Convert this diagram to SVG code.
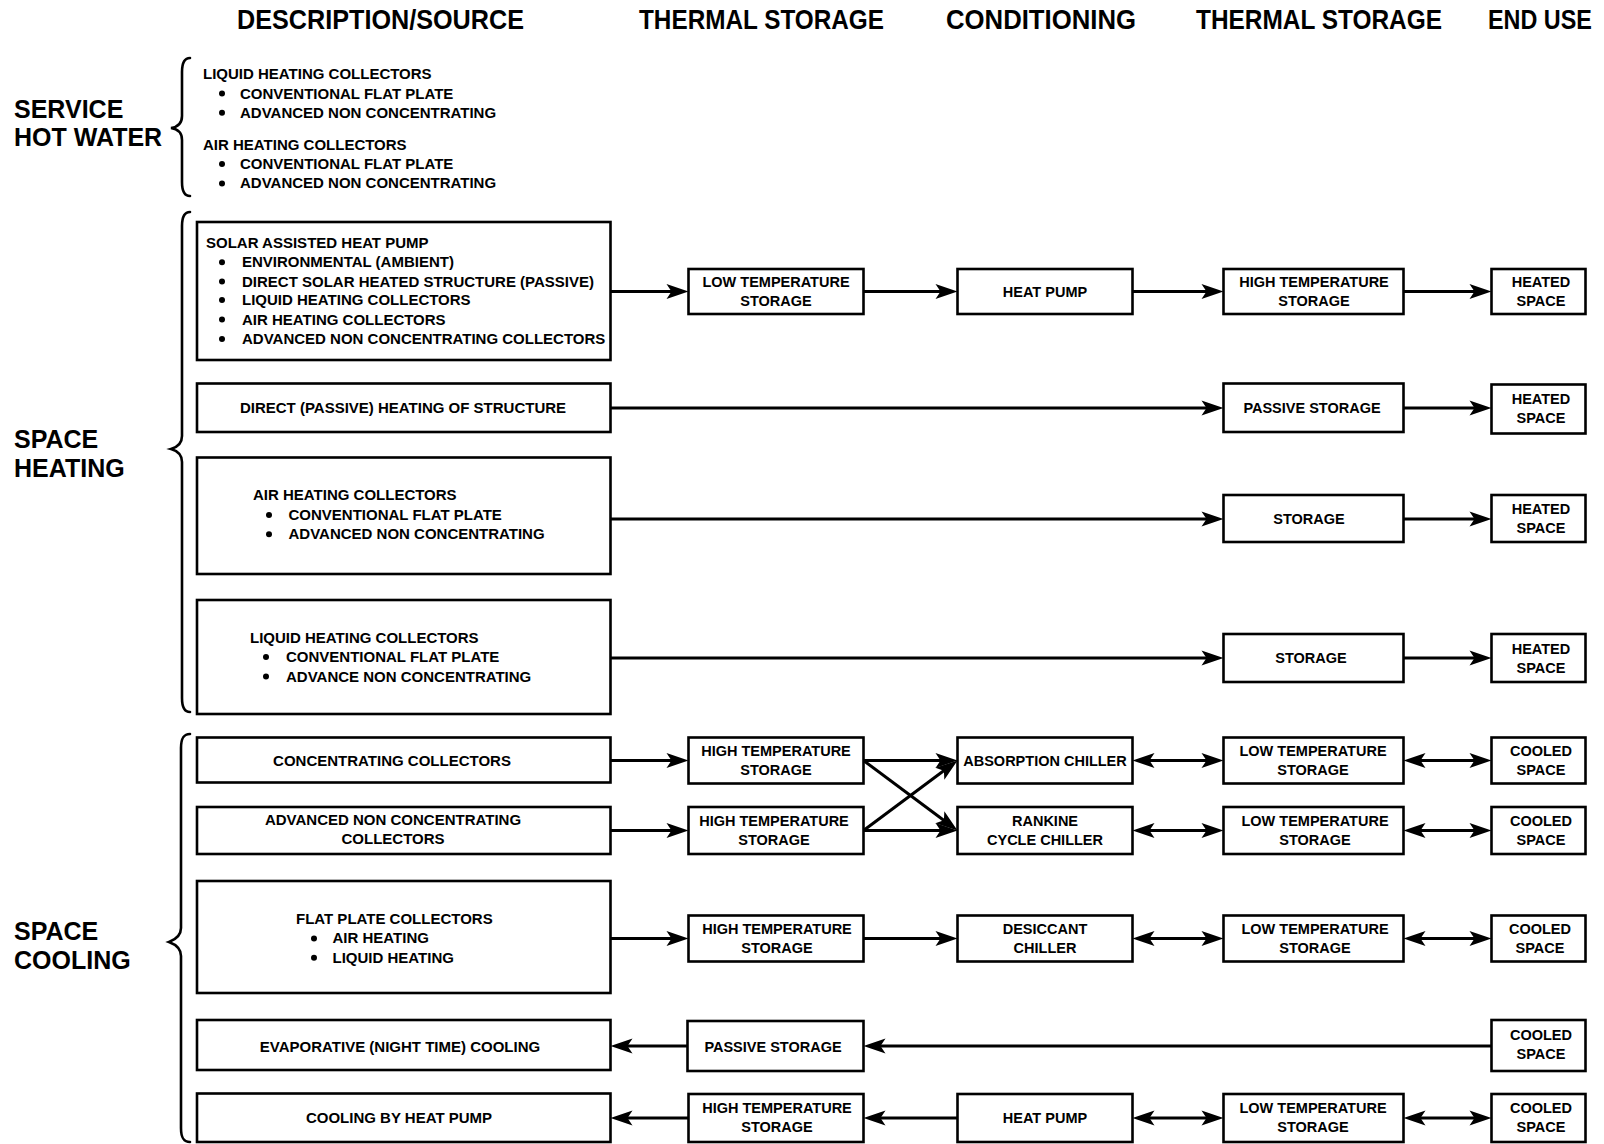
<svg xmlns="http://www.w3.org/2000/svg" width="1604" height="1144" viewBox="0 0 1604 1144">
<style>
text{font-family:"Liberation Sans",Arial,sans-serif;font-weight:bold;fill:#000}
.hd{font-size:28px}
.cat{font-size:25px}
.t{font-size:14.5px}
.s{font-size:15px}
.m{text-anchor:middle}
.box{fill:#fff;stroke:#000;stroke-width:2.6}
.br{fill:none;stroke:#000;stroke-width:2.6;stroke-linecap:round}
.ln{fill:none;stroke:#000;stroke-width:3}
.a{marker-end:url(#ah)}
.aa{marker-start:url(#ah);marker-end:url(#ah)}
</style>
<defs>
<marker id="ah" markerUnits="userSpaceOnUse" orient="auto-start-reverse" refX="0" refY="0" markerWidth="40" markerHeight="20" viewBox="-20 -10 40 20" overflow="visible">
<path d="M8,0 L-14,-7.5 L-9,0 L-14,7.5 Z" fill="#000"/>
</marker>
</defs>
<rect width="1604" height="1144" fill="#fff"/>

<g id="headers">
<text class="hd" x="237" y="29" textLength="287" lengthAdjust="spacingAndGlyphs">DESCRIPTION/SOURCE</text>
<text class="hd" x="639" y="29" textLength="245" lengthAdjust="spacingAndGlyphs">THERMAL STORAGE</text>
<text class="hd" x="946" y="29" textLength="190" lengthAdjust="spacingAndGlyphs">CONDITIONING</text>
<text class="hd" x="1196" y="29" textLength="246" lengthAdjust="spacingAndGlyphs">THERMAL STORAGE</text>
<text class="hd" x="0" y="0" transform="translate(1488,29) scale(0.835,1)">END USE</text>
</g>

<g id="categories">
<text class="cat" x="14" y="117.5">SERVICE</text>
<text class="cat" x="14" y="146">HOT WATER</text>
<text class="cat" x="14" y="448">SPACE</text>
<text class="cat" x="14" y="476.5">HEATING</text>
<text class="cat" x="14" y="940">SPACE</text>
<text class="cat" x="14" y="969">COOLING</text>
</g>

<g id="braces">
<path class="br" d="M190,58 C184,58 182,63 182,72 L182,116 C182,123 178,127 171,128 C178,129 182,133 182,140 L182,182 C182,191 184,196 190,196"/>
<path class="br" d="M190,212 C184,212 182,217 182,226 L182,436 C182,443 178,447 171,449 C178,451 182,455 182,462 L182,698 C182,707 184,712 190,712"/>
<path class="br" d="M190,734 C183,734 181,739 181,748 L181,928 C181,935 177,939 169,942 C177,945 181,949 181,956 L181,1128 C181,1137 183,1142 190,1142"/>
</g>

<g id="shw-text">
<text class="s" x="203" y="79">LIQUID HEATING COLLECTORS</text>
<circle cx="222" cy="93.5" r="3"/><text class="s" x="240" y="98.5">CONVENTIONAL FLAT PLATE</text>
<circle cx="222" cy="112.8" r="3"/><text class="s" x="240" y="117.8">ADVANCED NON CONCENTRATING</text>
<text class="s" x="203" y="149.5">AIR HEATING COLLECTORS</text>
<circle cx="222" cy="164" r="3"/><text class="s" x="240" y="169">CONVENTIONAL FLAT PLATE</text>
<circle cx="222" cy="183.4" r="3"/><text class="s" x="240" y="188.4">ADVANCED NON CONCENTRATING</text>
</g>

<g id="connectors">
<line class="ln a" x1="610.5" y1="291.5" x2="680.5" y2="291.5"/>
<line class="ln a" x1="863.5" y1="291.5" x2="949.5" y2="291.5"/>
<line class="ln a" x1="1132.5" y1="291.5" x2="1215.5" y2="291.5"/>
<line class="ln a" x1="1403.5" y1="291.5" x2="1483.5" y2="291.5"/>
<line class="ln a" x1="610.5" y1="408" x2="1215.5" y2="408"/>
<line class="ln a" x1="1403.5" y1="408" x2="1483.5" y2="408"/>
<line class="ln a" x1="610.5" y1="519" x2="1215.5" y2="519"/>
<line class="ln a" x1="1403.5" y1="519" x2="1483.5" y2="519"/>
<line class="ln a" x1="610.5" y1="658" x2="1215.5" y2="658"/>
<line class="ln a" x1="1403.5" y1="658" x2="1483.5" y2="658"/>

<line class="ln a" x1="610.5" y1="760.5" x2="680.5" y2="760.5"/>
<line class="ln a" x1="863.5" y1="760.5" x2="949.5" y2="760.5"/>
<line class="ln a" x1="863.5" y1="760.5" x2="951.1" y2="825.7"/>
<line class="ln aa" x1="1140.5" y1="760.5" x2="1215.5" y2="760.5"/>
<line class="ln aa" x1="1411.5" y1="760.5" x2="1483.5" y2="760.5"/>

<line class="ln a" x1="610.5" y1="830.5" x2="680.5" y2="830.5"/>
<line class="ln a" x1="863.5" y1="830.5" x2="949.5" y2="830.5"/>
<line class="ln a" x1="863.5" y1="830.5" x2="951.1" y2="765.3"/>
<line class="ln aa" x1="1140.5" y1="830.5" x2="1215.5" y2="830.5"/>
<line class="ln aa" x1="1411.5" y1="830.5" x2="1483.5" y2="830.5"/>

<line class="ln a" x1="610.5" y1="938.5" x2="680.5" y2="938.5"/>
<line class="ln a" x1="863.5" y1="938.5" x2="949.5" y2="938.5"/>
<line class="ln aa" x1="1140.5" y1="938.5" x2="1215.5" y2="938.5"/>
<line class="ln aa" x1="1411.5" y1="938.5" x2="1483.5" y2="938.5"/>

<line class="ln a" x1="1491.5" y1="1046" x2="871.5" y2="1046"/>
<line class="ln a" x1="687.5" y1="1046" x2="618.5" y2="1046"/>

<line class="ln a" x1="688.5" y1="1118" x2="618.5" y2="1118"/>
<line class="ln a" x1="957.5" y1="1118" x2="871.5" y2="1118"/>
<line class="ln aa" x1="1140.5" y1="1118" x2="1215.5" y2="1118"/>
<line class="ln aa" x1="1411.5" y1="1118" x2="1483.5" y2="1118"/>
</g>

<g id="h-src1"><rect class="box" x="197" y="222" width="413.5" height="138"/>
<text class="s" x="206" y="247.8">SOLAR ASSISTED HEAT PUMP</text>
<circle cx="222" cy="262.2" r="3"/><text class="s" x="242" y="267.2">ENVIRONMENTAL (AMBIENT)</text>
<circle cx="222" cy="281.6" r="3"/><text class="s" x="242" y="286.6">DIRECT SOLAR HEATED STRUCTURE (PASSIVE)</text>
<circle cx="222" cy="300" r="3"/><text class="s" x="242" y="305">LIQUID HEATING COLLECTORS</text>
<circle cx="222" cy="319.5" r="3"/><text class="s" x="242" y="324.5">AIR HEATING COLLECTORS</text>
<circle cx="222" cy="338.9" r="3"/><text class="s" x="242" y="343.9">ADVANCED NON CONCENTRATING COLLECTORS</text>
</g>
<g id="h-src2"><rect class="box" x="197" y="383.5" width="413.5" height="48.5"/>
<text class="s m" x="403" y="412.5">DIRECT (PASSIVE) HEATING OF STRUCTURE</text></g>
<g id="h-src3"><rect class="box" x="197" y="457.5" width="413.5" height="116.5"/>
<text class="s" x="253" y="500.4">AIR HEATING COLLECTORS</text>
<circle cx="269" cy="514.9" r="3"/><text class="s" x="288.5" y="519.9">CONVENTIONAL FLAT PLATE</text>
<circle cx="269" cy="534.3" r="3"/><text class="s" x="288.5" y="539.3">ADVANCED NON CONCENTRATING</text></g>
<g id="h-src4"><rect class="box" x="197" y="600" width="413.5" height="114"/>
<text class="s" x="250" y="642.6">LIQUID HEATING COLLECTORS</text>
<circle cx="266" cy="657.1" r="3"/><text class="s" x="286" y="662.1">CONVENTIONAL FLAT PLATE</text>
<circle cx="266" cy="676.5" r="3"/><text class="s" x="286" y="681.5">ADVANCE NON CONCENTRATING</text></g>

<g id="h1-lts"><rect class="box" x="688.5" y="269" width="175" height="45"/>
<text class="t m" x="776" y="287">LOW TEMPERATURE</text><text class="t m" x="776" y="306">STORAGE</text></g>
<g id="h1-hp"><rect class="box" x="957.5" y="269" width="175" height="45"/>
<text class="t m" x="1045" y="296.5">HEAT PUMP</text></g>
<g id="h1-hts"><rect class="box" x="1223.5" y="269" width="180" height="45"/>
<text class="t m" x="1314" y="287">HIGH TEMPERATURE</text><text class="t m" x="1314" y="306">STORAGE</text></g>
<g id="h1-end"><rect class="box" x="1491.5" y="269" width="94" height="45"/>
<text class="t m" x="1541" y="287">HEATED</text><text class="t m" x="1541" y="306">SPACE</text></g>

<g id="h2-ps"><rect class="box" x="1223.5" y="383.5" width="180" height="48.5"/>
<text class="t m" x="1312" y="413">PASSIVE STORAGE</text></g>
<g id="h2-end"><rect class="box" x="1491.5" y="384.5" width="94" height="49"/>
<text class="t m" x="1541" y="404">HEATED</text><text class="t m" x="1541" y="423">SPACE</text></g>

<g id="h3-st"><rect class="box" x="1223.5" y="495" width="180" height="47"/>
<text class="t m" x="1309" y="524">STORAGE</text></g>
<g id="h3-end"><rect class="box" x="1491.5" y="495" width="94" height="47"/>
<text class="t m" x="1541" y="514">HEATED</text><text class="t m" x="1541" y="533">SPACE</text></g>

<g id="h4-st"><rect class="box" x="1223.5" y="634" width="180" height="48"/>
<text class="t m" x="1311" y="663">STORAGE</text></g>
<g id="h4-end"><rect class="box" x="1491.5" y="634" width="94" height="48"/>
<text class="t m" x="1541" y="653.5">HEATED</text><text class="t m" x="1541" y="672.5">SPACE</text></g>

<g id="c-src1"><rect class="box" x="197" y="737.5" width="413.5" height="45"/>
<text class="s m" x="392" y="765.5">CONCENTRATING COLLECTORS</text></g>
<g id="c-src2"><rect class="box" x="197" y="807" width="413.5" height="47"/>
<text class="s m" x="393" y="824.5">ADVANCED NON CONCENTRATING</text><text class="s m" x="393" y="844">COLLECTORS</text></g>
<g id="c-src3"><rect class="box" x="197" y="881" width="413.5" height="112"/>
<text class="s" x="296" y="923.9">FLAT PLATE COLLECTORS</text>
<circle cx="314" cy="938.4" r="3"/><text class="s" x="332.5" y="943.4">AIR HEATING</text>
<circle cx="314" cy="957.8" r="3"/><text class="s" x="332.5" y="962.8">LIQUID HEATING</text></g>
<g id="c-src4"><rect class="box" x="197" y="1020" width="413.5" height="50"/>
<text class="s m" x="400" y="1051.5">EVAPORATIVE (NIGHT TIME) COOLING</text></g>
<g id="c-src5"><rect class="box" x="197" y="1093.5" width="413.5" height="48.5"/>
<text class="s m" x="399" y="1123">COOLING BY HEAT PUMP</text></g>

<g id="c1-hts"><rect class="box" x="688.5" y="737.5" width="175" height="46"/>
<text class="t m" x="776" y="756">HIGH TEMPERATURE</text><text class="t m" x="776" y="775">STORAGE</text></g>
<g id="c1-abs"><rect class="box" x="957.5" y="737.5" width="175" height="46"/>
<text class="t m" x="1045" y="765.5">ABSORPTION CHILLER</text></g>
<g id="c1-lts"><rect class="box" x="1223.5" y="737.5" width="180" height="46"/>
<text class="t m" x="1313" y="756">LOW TEMPERATURE</text><text class="t m" x="1313" y="775">STORAGE</text></g>
<g id="c1-end"><rect class="box" x="1491.5" y="737.5" width="94" height="46"/>
<text class="t m" x="1541" y="756">COOLED</text><text class="t m" x="1541" y="775">SPACE</text></g>

<g id="c2-hts"><rect class="box" x="688.5" y="807" width="175" height="47"/>
<text class="t m" x="774" y="826">HIGH TEMPERATURE</text><text class="t m" x="774" y="845">STORAGE</text></g>
<g id="c2-rank"><rect class="box" x="957.5" y="807" width="175" height="47"/>
<text class="t m" x="1045" y="826">RANKINE</text><text class="t m" x="1045" y="845">CYCLE CHILLER</text></g>
<g id="c2-lts"><rect class="box" x="1223.5" y="807" width="180" height="47"/>
<text class="t m" x="1315" y="826">LOW TEMPERATURE</text><text class="t m" x="1315" y="845">STORAGE</text></g>
<g id="c2-end"><rect class="box" x="1491.5" y="807" width="94" height="47"/>
<text class="t m" x="1541" y="826">COOLED</text><text class="t m" x="1541" y="845">SPACE</text></g>

<g id="c3-hts"><rect class="box" x="688.5" y="915.5" width="175" height="46"/>
<text class="t m" x="777" y="934">HIGH TEMPERATURE</text><text class="t m" x="777" y="953">STORAGE</text></g>
<g id="c3-des"><rect class="box" x="957.5" y="915.5" width="175" height="46"/>
<text class="t m" x="1045" y="934">DESICCANT</text><text class="t m" x="1045" y="953">CHILLER</text></g>
<g id="c3-lts"><rect class="box" x="1223.5" y="915.5" width="180" height="46"/>
<text class="t m" x="1315" y="934">LOW TEMPERATURE</text><text class="t m" x="1315" y="953">STORAGE</text></g>
<g id="c3-end"><rect class="box" x="1491.5" y="915.5" width="94" height="46"/>
<text class="t m" x="1540" y="934">COOLED</text><text class="t m" x="1540" y="953">SPACE</text></g>

<g id="c4-ps"><rect class="box" x="687.5" y="1021" width="176" height="50"/>
<text class="t m" x="773" y="1051.5">PASSIVE STORAGE</text></g>
<g id="c4-end"><rect class="box" x="1491.5" y="1020" width="94" height="51"/>
<text class="t m" x="1541" y="1040">COOLED</text><text class="t m" x="1541" y="1059">SPACE</text></g>

<g id="c5-hts"><rect class="box" x="688.5" y="1094" width="175" height="48"/>
<text class="t m" x="777" y="1113">HIGH TEMPERATURE</text><text class="t m" x="777" y="1132">STORAGE</text></g>
<g id="c5-hp"><rect class="box" x="957.5" y="1094" width="175" height="48"/>
<text class="t m" x="1045" y="1123">HEAT PUMP</text></g>
<g id="c5-lts"><rect class="box" x="1223.5" y="1094" width="180" height="48"/>
<text class="t m" x="1313" y="1113">LOW TEMPERATURE</text><text class="t m" x="1313" y="1132">STORAGE</text></g>
<g id="c5-end"><rect class="box" x="1491.5" y="1094" width="94" height="48"/>
<text class="t m" x="1541" y="1113">COOLED</text><text class="t m" x="1541" y="1132">SPACE</text></g>
</svg>
